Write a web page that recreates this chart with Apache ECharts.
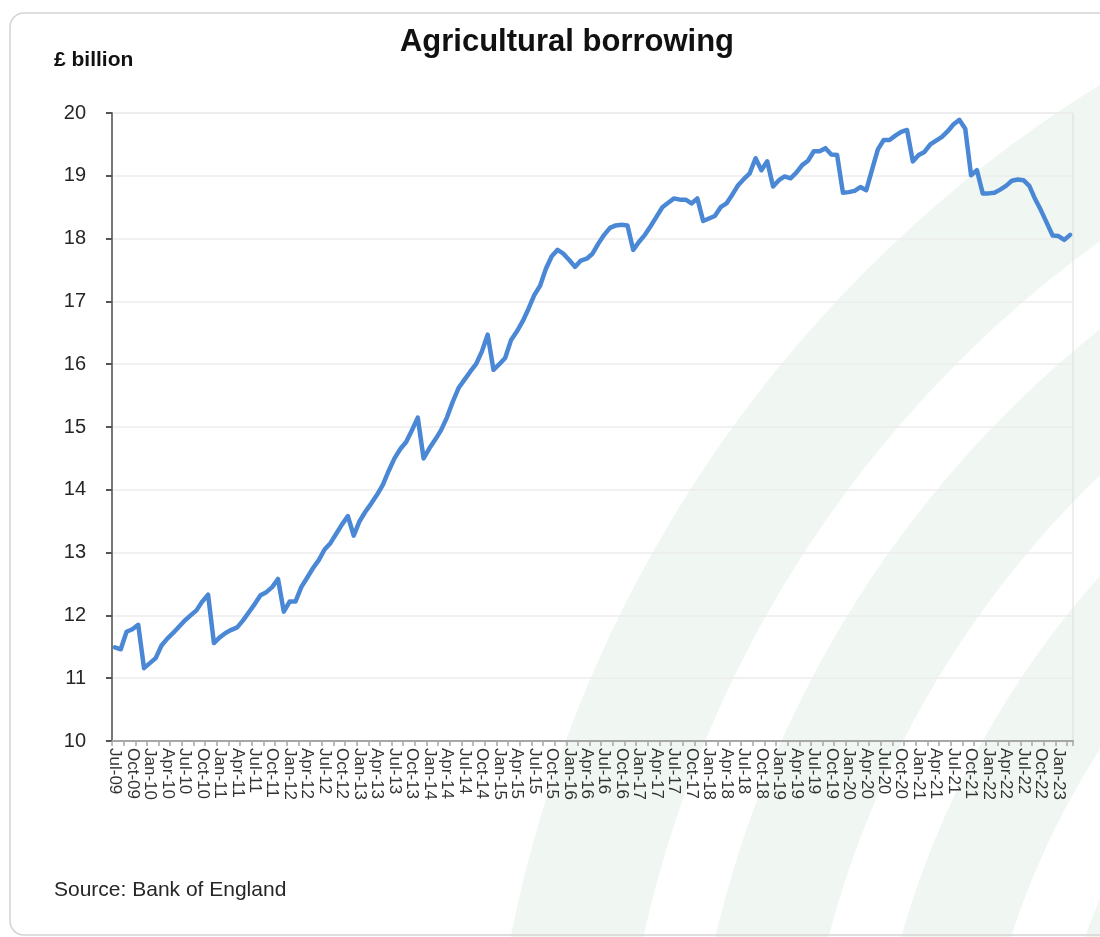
<!DOCTYPE html>
<html>
<head>
<meta charset="utf-8">
<script src="https://cdn.jsdelivr.net/npm/echarts@6/dist/echarts.min.js"></script>
<style>
html,body{margin:0;padding:0;background:#fff;}
#chart{width:1100px;height:937px;}
</style>
</head>
<body>
<div id="chart"></div>
<script>
// ---- Data ----
const titleText = 'Agricultural borrowing';
const unitLabel = '£ billion';
const sourceText = 'Source: Bank of England';
const monthNames = ['Jan','Feb','Mar','Apr','May','Jun','Jul','Aug','Sep','Oct','Nov','Dec'];
const startYear = 2009, startMonth = 6; // Jul-09
const yTicks = [10, 11, 12, 13, 14, 15, 16, 17, 18, 19, 20];

// Monthly outstanding borrowing, £ billion (Jul-09 .. Mar-23)
const borrowing = [
  11.49, 11.46, 11.74, 11.78, 11.85, 11.16, 11.24, 11.32, 11.52, 11.63, 11.72, 11.82,
  11.92, 12.00, 12.08, 12.22, 12.33, 11.56, 11.65, 11.72, 11.77, 11.81, 11.92, 12.05,
  12.18, 12.32, 12.37, 12.45, 12.58, 12.06, 12.22, 12.22, 12.45, 12.60, 12.75, 12.88,
  13.05, 13.15, 13.30, 13.45, 13.58, 13.27, 13.50, 13.65, 13.78, 13.92, 14.08, 14.30,
  14.50, 14.65, 14.76, 14.95, 15.15, 14.50, 14.66, 14.80, 14.95, 15.15, 15.40, 15.62,
  15.75, 15.88, 16.00, 16.20, 16.47, 15.91, 16.00, 16.10, 16.38, 16.52, 16.68, 16.88,
  17.10, 17.25, 17.52, 17.72, 17.82, 17.76, 17.66, 17.55, 17.65, 17.68, 17.76, 17.92,
  18.06, 18.17, 18.21, 18.22, 18.21, 17.82, 17.95, 18.06, 18.20, 18.35, 18.50, 18.57,
  18.64, 18.62, 18.62, 18.56, 18.64, 18.28, 18.32, 18.36, 18.50, 18.56, 18.70, 18.85,
  18.95, 19.04, 19.28, 19.09, 19.23, 18.83, 18.93, 18.99, 18.96, 19.05, 19.17, 19.24,
  19.39, 19.39, 19.44, 19.34, 19.33, 18.73, 18.74, 18.76, 18.82, 18.77, 19.10, 19.42,
  19.57, 19.57, 19.64, 19.70, 19.73, 19.23, 19.33, 19.38, 19.50, 19.56, 19.62, 19.71,
  19.82, 19.89, 19.75, 19.01, 19.09, 18.72, 18.72, 18.73, 18.78, 18.84, 18.92, 18.94,
  18.93, 18.84, 18.63, 18.45, 18.25, 18.05, 18.04, 17.98, 18.06
];

// Category labels "Mon-YY"
const categories = [];
for (let i = 0; i < borrowing.length; i++) {
  const m = (startMonth + i) % 12;
  const y = startYear + Math.floor((startMonth + i) / 12);
  categories.push(monthNames[m] + '-' + String(y % 100).padStart(2, '0'));
}

const chart = echarts.init(document.getElementById('chart'), null, {renderer: 'canvas'});

const cx = 1786, cy = 1189;
function band(r0, r) {
  return {type: 'sector', z: -10, silent: true,
    shape: {cx: cx, cy: cy, r0: r0, r: r, startAngle: Math.PI, endAngle: Math.PI * 1.5},
    style: {fill: '#f0f7f2'}};
}

chart.setOption({
  animation: false,
  backgroundColor: '#ffffff',
  graphic: [
    {type: 'group', z: -20, silent: true, children: [
      band(1170, 1300), band(990, 1100), band(815, 920), band(650, 745)
    ]},
    {type: 'rect', z: -5, silent: true,
      shape: {x: 10, y: 13, width: 1120, height: 922, r: 14},
      style: {fill: null, stroke: '#d4d4d4', lineWidth: 1.5}}
  ],
  title: [
    {text: titleText, left: 562, top: 22, textAlign: 'center',
      textStyle: {fontFamily: 'Liberation Sans', fontWeight: 'bold', fontSize: 31, color: '#111'}},
    {text: unitLabel, left: 49, top: 45,
      textStyle: {fontFamily: 'Liberation Sans', fontWeight: 'bold', fontSize: 21, color: '#111'}},
    {text: sourceText, left: 49, top: 875,
      textStyle: {fontFamily: 'Liberation Sans', fontWeight: 'normal', fontSize: 21, color: '#262626'}}
  ],
  grid: {left: 112, right: 27, top: 113, bottom: 196, show: true, borderColor: '#dcdcdc', borderWidth: 1, backgroundColor: 'transparent'},
  xAxis: {
    type: 'category',
    data: categories,
    boundaryGap: true,
    axisLine: {show: true, lineStyle: {color: '#a6a6a6', width: 2}},
    axisTick: {show: true, interval: 1, length: 5, lineStyle: {color: '#a6a6a6', width: 1.5}},
    axisLabel: {
      interval: function (idx) { return idx % 3 === 0; },
      showMinLabel: true, hideOverlap: false,
      rotate: -90, fontFamily: 'Liberation Sans', fontSize: 17, lineHeight: 14,
      color: '#333', margin: 7
    },
    splitLine: {show: false}
  },
  yAxis: {
    type: 'value',
    min: yTicks[0], max: yTicks[yTicks.length - 1], interval: 1,
    axisLine: {show: true, lineStyle: {color: '#777', width: 2}},
    axisTick: {show: true, length: 6, lineStyle: {color: '#555', width: 2}},
    axisLabel: {fontFamily: 'Liberation Sans', fontSize: 20, color: '#262626', margin: 26},
    splitLine: {show: true, lineStyle: {color: '#ececec', width: 1.5}}
  },
  series: [{
    type: 'line',
    data: borrowing,
    showSymbol: false,
    symbol: 'none',
    smooth: false,
    lineStyle: {color: '#4a88d6', width: 4.5, join: 'round', cap: 'round'}
  }]
});
</script>
</body>
</html>
